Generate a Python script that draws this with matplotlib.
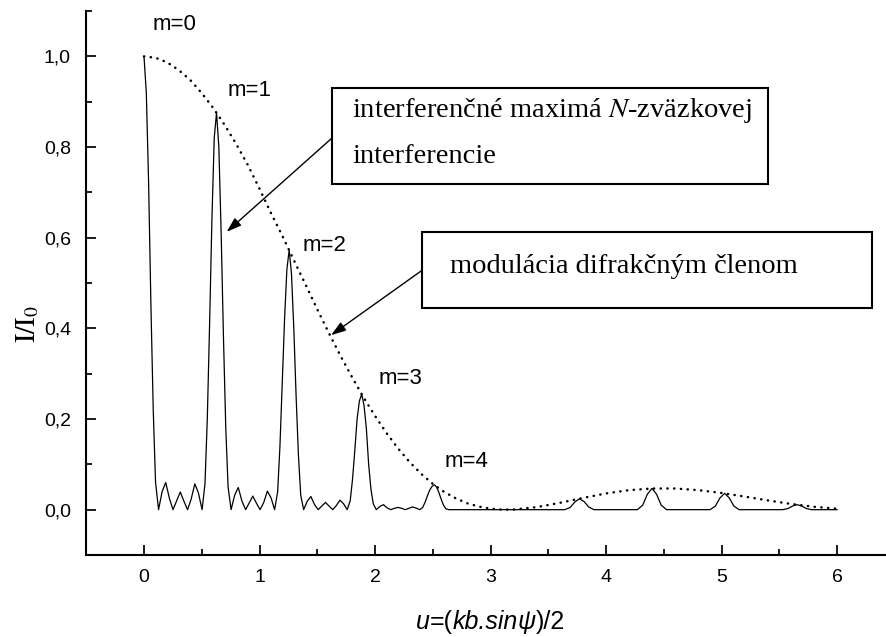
import matplotlib
matplotlib.use("Agg")
import matplotlib.pyplot as plt
from matplotlib.patches import Rectangle
from matplotlib.ticker import FixedLocator, MultipleLocator
from matplotlib.offsetbox import TextArea, HPacker, AnnotationBbox

# ---------------- data ----------------
u_solid = [0.000, 0.020, 0.040, 0.060, 0.080, 0.100, 0.126,
           0.157, 0.188, 0.220, 0.251, 0.283, 0.314, 0.345, 0.377, 0.408, 0.440, 0.471, 0.503,
           0.528, 0.548, 0.568, 0.588, 0.608, 0.628, 0.648, 0.668, 0.688, 0.708, 0.728, 0.754,
           0.785, 0.816, 0.848, 0.880, 0.911, 0.942, 0.974, 1.005, 1.037, 1.068, 1.100, 1.131,
           1.157, 1.177, 1.197, 1.217, 1.237, 1.257, 1.277, 1.297, 1.317, 1.337, 1.357, 1.382,
           1.414, 1.445, 1.477, 1.508, 1.539, 1.571, 1.602, 1.634, 1.665, 1.696, 1.728, 1.759,
           1.785, 1.805, 1.825, 1.845, 1.865, 1.885, 1.905, 1.925, 1.945, 1.965, 1.985, 2.011,
           2.042, 2.073, 2.105, 2.136, 2.168, 2.199, 2.231, 2.262, 2.293, 2.325, 2.356, 2.388,
           2.413, 2.433, 2.453, 2.473, 2.493, 2.513, 2.533, 2.553, 2.573, 2.593, 2.613, 2.640,
           3.644, 3.690, 3.730, 3.770, 3.810, 3.850, 3.896,
           4.272, 4.318, 4.358, 4.398, 4.438, 4.478, 4.524,
           4.901, 4.947, 4.987, 5.027, 5.067, 5.107, 5.153,
           5.529, 5.575, 5.615, 5.655, 5.695, 5.735, 5.781,
           6.000]
i_solid = [1.000, 0.920, 0.720, 0.450, 0.220, 0.060, 0.000,
           0.040, 0.060, 0.025, 0.000, 0.020, 0.039, 0.019, 0.000, 0.023, 0.057, 0.037, 0.000,
           0.057, 0.200, 0.410, 0.640, 0.820, 0.876, 0.800, 0.610, 0.380, 0.180, 0.050, 0.000,
           0.032, 0.049, 0.019, 0.000, 0.015, 0.030, 0.014, 0.000, 0.016, 0.041, 0.026, 0.000,
           0.039, 0.140, 0.280, 0.420, 0.530, 0.573, 0.520, 0.400, 0.250, 0.120, 0.032, 0.000,
           0.019, 0.029, 0.011, 0.000, 0.008, 0.016, 0.008, 0.000, 0.009, 0.021, 0.013, 0.000,
           0.019, 0.066, 0.130, 0.200, 0.240, 0.255, 0.230, 0.180, 0.100, 0.045, 0.013, 0.000,
           0.007, 0.011, 0.004, 0.000, 0.003, 0.005, 0.003, 0.000, 0.003, 0.006, 0.0035, 0.000,
           0.005, 0.016, 0.030, 0.043, 0.051, 0.055, 0.050, 0.038, 0.023, 0.010, 0.002, 0.000,
           0.000, 0.005, 0.017, 0.024, 0.018, 0.006, 0.000,
           0.000, 0.010, 0.034, 0.047, 0.034, 0.010, 0.000,
           0.000, 0.008, 0.026, 0.036, 0.026, 0.008, 0.000,
           0.000, 0.0025, 0.008, 0.011, 0.008, 0.0024, 0.000,
           0.000]

u_env = [0.0, 0.1, 0.2, 0.3, 0.4, 0.5, 0.6, 0.7, 0.8, 0.9, 1.0, 1.1, 1.2, 1.3, 1.4,
         1.5, 1.6, 1.7, 1.8, 1.9, 2.0, 2.1, 2.2, 2.3, 2.4, 2.5, 2.6, 2.7, 2.8, 2.9,
         3.0, 3.1, 3.2, 3.4, 3.6, 3.8, 4.0, 4.2, 4.4, 4.6, 4.8, 5.0, 5.2, 5.4, 5.6,
         5.8, 6.0]
i_env = [1.000, 0.997, 0.987, 0.970, 0.948, 0.919, 0.886, 0.848, 0.806, 0.760, 0.708,
         0.654, 0.603, 0.549, 0.496, 0.442, 0.390, 0.340, 0.293, 0.248, 0.207, 0.169,
         0.135, 0.105, 0.079, 0.057, 0.039, 0.025, 0.014, 0.0068, 0.0022, 0.0002,
         0.0003, 0.0056, 0.0151, 0.0259, 0.0358, 0.0431, 0.0467, 0.0467, 0.0431,
         0.0368, 0.0289, 0.0205, 0.0127, 0.0064, 0.0022]

order_labels = ["m=0", "m=1", "m=2", "m=3", "m=4"]
order_label_u = [0.26, 0.91, 1.56, 2.22, 2.79]
order_label_i = [1.07, 0.924, 0.583, 0.29, 0.106]

x_ticks = [0, 1, 2, 3, 4, 5, 6]
x_tick_labels = ["0", "1", "2", "3", "4", "5", "6"]
y_ticks = [0.0, 0.2, 0.4, 0.6, 0.8, 1.0]
y_tick_labels = ["0,0", "0,2", "0,4", "0,6", "0,8", "1,0"]

# x label pieces: (text, style)
xlabel_parts = [("u", "italic"), ("=(", "normal"), ("kb.sin", "italic"),
                ("ψ", "italic"), (")/2", "normal")]
box1_lines = ["interferenčné maximá $\\mathit{N}$-zväzkovej", "interferencie"]
box2_text = "modulácia difrakčným členom"

# ---------------- figure ----------------
plt.rcParams['font.family'] = ['Liberation Sans', 'DejaVu Sans']

W, H = 886, 637
fig = plt.figure(figsize=(W / 100, H / 100), dpi=100)
ax = fig.add_axes([86.25 / W, 1 - 555 / H, 808.5 / W, (555 - 11.1) / H])

ax.plot(u_solid, i_solid, color='black', lw=0.9, solid_joinstyle='round')
ax.plot(u_env, i_env, color='black', lw=1.8, linestyle=(0, (0.1, 2.6)),
        dash_capstyle='round')

ax.set_xlim(-0.5, 6.5)
ax.set_ylim(-0.1, 1.1)

for side in ('top', 'right'):
    ax.spines[side].set_visible(False)
for side in ('left', 'bottom'):
    ax.spines[side].set_linewidth(1.5)

ax.xaxis.set_major_locator(FixedLocator(x_ticks))
ax.set_xticklabels(x_tick_labels)
ax.xaxis.set_minor_locator(MultipleLocator(0.5))
ax.yaxis.set_major_locator(FixedLocator(y_ticks))
ax.set_yticklabels(y_tick_labels)
ax.yaxis.set_minor_locator(MultipleLocator(0.1))
ax.tick_params(which='both', direction='in', width=1.25, labelsize=14)
ax.tick_params(which='major', length=7.5)
ax.tick_params(which='minor', length=4)
ax.tick_params(axis='x', pad=10)
ax.tick_params(axis='y', pad=11)

# x label built from styled pieces
pieces = [TextArea(t, textprops=dict(fontsize=18, fontstyle=s,
                                     family=['Liberation Sans', 'DejaVu Sans']))
          for t, s in xlabel_parts]
pack = HPacker(children=pieces, pad=0, sep=0, align='baseline')
ab = AnnotationBbox(pack, (3.0, 0), xycoords=('data', 'figure pixels'),
                    xybox=(3.0, H - 622), boxcoords=('data', 'figure pixels'),
                    box_alignment=(0.5, 0.5), frameon=False, pad=0,
                    annotation_clip=False)
ax.add_artist(ab)

ax.set_ylabel(r'$\mathrm{I/I_0}$', fontsize=20, math_fontfamily='stix')
ax.yaxis.set_label_coords(-0.056, (0.41 + 0.1) / 1.2)

for lab, xu, yi in zip(order_labels, order_label_u, order_label_i):
    ax.text(xu, yi, lab, fontsize=16, ha='center', va='center')

# text boxes (pixel geometry)
def px2fig(x, y):
    return x / W, 1 - y / H

b1 = (332, 88, 768, 184)
b2 = (422, 232, 872, 308)
for (x0, y0, x1, y1) in (b1, b2):
    fx0, fy1 = px2fig(x0, y1)
    fig.patches.append(Rectangle((fx0, fy1), (x1 - x0) / W, (y1 - y0) / H,
                                 transform=fig.transFigure, fill=True,
                                 facecolor='white', edgecolor='black', lw=1.5,
                                 zorder=5))

tx, ty = px2fig(352, 117)
fig.text(tx, ty, box1_lines[0], fontsize=20.5, family='Liberation Serif',
         math_fontfamily='stix', ha='left', va='baseline', zorder=6)
tx, ty = px2fig(352, 163)
fig.text(tx, ty, box1_lines[1], fontsize=20.5, family='Liberation Serif',
         ha='left', va='baseline', zorder=6)
tx, ty = px2fig(450, 273)
fig.text(tx, ty, box2_text, fontsize=20.5, family='Liberation Serif',
         ha='left', va='baseline', zorder=6)

# arrows
arrow_kw = dict(arrowstyle='-|>,head_length=0.9,head_width=0.3', color='black',
                lw=1.0, shrinkA=0, shrinkB=0)
ax.annotate('', xy=(0.716, 0.613), xytext=(1.628, 0.820), arrowprops=arrow_kw)
ax.annotate('', xy=(1.62, 0.385), xytext=(2.407, 0.528), arrowprops=arrow_kw)

fig.savefig('out.png', dpi=100)
